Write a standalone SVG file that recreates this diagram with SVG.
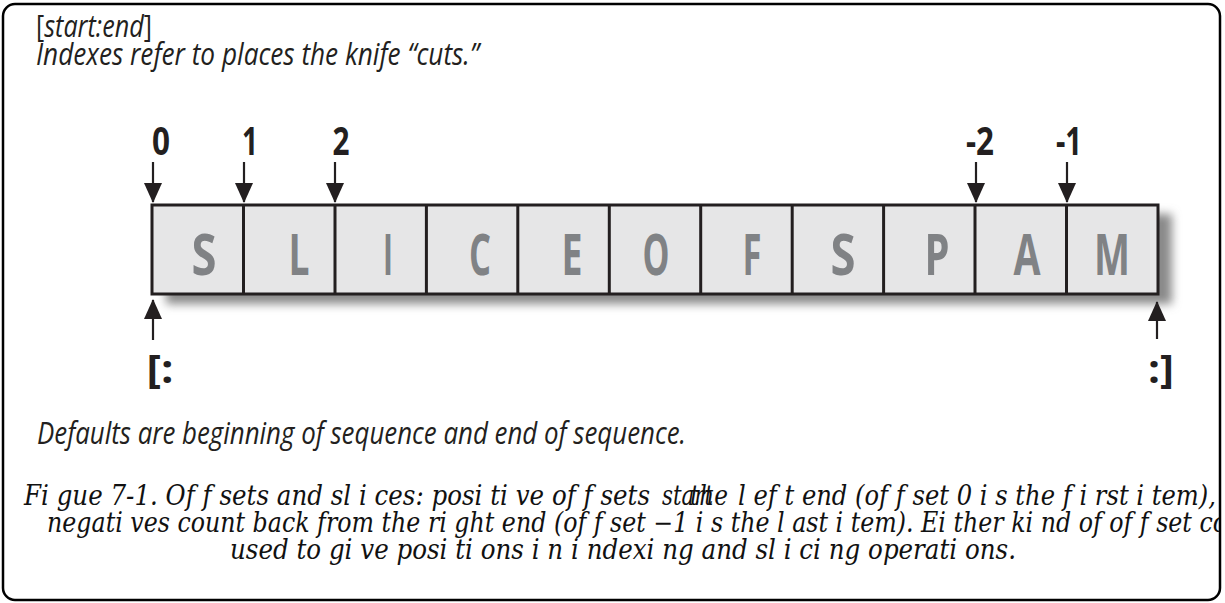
<svg xmlns="http://www.w3.org/2000/svg" width="1225" height="603" viewBox="0 0 1225 603">
<style>
.frame{fill:#fff;stroke:#000;stroke-width:2.5}
.hdr{font-family:"Open Sans","Noto Sans","Liberation Sans",sans-serif;font-style:italic;font-size:31px;fill:#231f20}
.up{font-style:normal}
.cell{fill:#e6e6e7;stroke:#231f20;stroke-width:3}
.let{font-family:"Open Sans","Liberation Sans",sans-serif;font-weight:bold;font-size:58px;fill:#808285;text-anchor:middle}
.idx{font-family:"Open Sans","Liberation Sans",sans-serif;font-weight:bold;font-size:39px;fill:#231f20;text-anchor:middle}
.arr{stroke:#231f20;stroke-width:2.2;fill:none;marker-end:url(#ah)}
.cap{font-family:"DejaVu Serif","Liberation Serif",serif;font-style:italic;font-size:27px;fill:#111}
</style>
<defs>
<marker id="ah" markerUnits="userSpaceOnUse" markerWidth="20" markerHeight="18" refX="19" refY="9" orient="auto" viewBox="0 0 20 18">
<path d="M0,0 L20,9 L0,18 z" fill="#231f20"/>
</marker>
<filter id="sh" x="-5%" y="-30%" width="110%" height="160%">
<feGaussianBlur stdDeviation="5"/>
</filter>
<clipPath id="clip"><rect x="0" y="0" width="1219" height="603"/></clipPath>
</defs>
<rect class="frame" x="3" y="4" width="1217" height="596" rx="12"/>
<g id="header">
<text class="hdr" x="36" y="37" textLength="116" lengthAdjust="spacingAndGlyphs"><tspan class="up">[</tspan>start:end<tspan class="up">]</tspan></text>
<text class="hdr" x="36" y="65" textLength="443" lengthAdjust="spacingAndGlyphs">Indexes refer to places the knife “cuts.”</text>
</g>
<g id="shadow">
<rect x="166" y="214" width="1006" height="90" fill="#8a8a8a" filter="url(#sh)"/>
</g>
<g id="strip">
<rect class="cell" x="152" y="205" width="1006" height="89"/>
<path d="M243.5,205V294M335,205V294M426.4,205V294M517.8,205V294M609.3,205V294M700.7,205V294M792.2,205V294M883.6,205V294M975,205V294M1066.5,205V294" stroke="#231f20" stroke-width="3"/>
</g>
<g id="cell-S1"><text class="let" x="204" y="275" textLength="25" lengthAdjust="spacingAndGlyphs">S</text></g>
<g id="cell-L"><text class="let" x="299" y="275" textLength="21" lengthAdjust="spacingAndGlyphs">L</text></g>
<g id="cell-I"><text class="let" x="388" y="275" textLength="10" lengthAdjust="spacingAndGlyphs">I</text></g>
<g id="cell-C"><text class="let" x="480" y="275" textLength="22" lengthAdjust="spacingAndGlyphs">C</text></g>
<g id="cell-E"><text class="let" x="572" y="275" textLength="21" lengthAdjust="spacingAndGlyphs">E</text></g>
<g id="cell-O"><text class="let" x="656" y="275" textLength="27" lengthAdjust="spacingAndGlyphs">O</text></g>
<g id="cell-F"><text class="let" x="752" y="275" textLength="19" lengthAdjust="spacingAndGlyphs">F</text></g>
<g id="cell-S2"><text class="let" x="843" y="275" textLength="25" lengthAdjust="spacingAndGlyphs">S</text></g>
<g id="cell-P"><text class="let" x="937" y="275" textLength="25" lengthAdjust="spacingAndGlyphs">P</text></g>
<g id="cell-A"><text class="let" x="1027" y="275" textLength="27" lengthAdjust="spacingAndGlyphs">A</text></g>
<g id="cell-M"><text class="let" x="1112" y="275" textLength="36" lengthAdjust="spacingAndGlyphs">M</text></g>
<g id="idx-0"><text class="idx" x="161" y="155" textLength="18" lengthAdjust="spacingAndGlyphs">0</text></g>
<g id="idx-1"><text class="idx" x="250" y="155" textLength="16" lengthAdjust="spacingAndGlyphs">1</text></g>
<g id="idx-2"><text class="idx" x="341" y="155" textLength="17" lengthAdjust="spacingAndGlyphs">2</text></g>
<g id="idx-m2"><text class="idx" x="980" y="155" textLength="28" lengthAdjust="spacingAndGlyphs">-2</text></g>
<g id="idx-m1"><text class="idx" x="1069" y="155" textLength="26" lengthAdjust="spacingAndGlyphs">-1</text></g>
<g id="start-default"><text class="idx" x="160" y="383" textLength="27" lengthAdjust="spacingAndGlyphs">[:</text></g>
<g id="end-default"><text class="idx" x="1161" y="383" textLength="26" lengthAdjust="spacingAndGlyphs">:]</text></g>
<g id="connectors">
<line class="arr" x1="153" y1="162" x2="153" y2="202"/>
<line class="arr" x1="244" y1="162" x2="244" y2="202"/>
<line class="arr" x1="335" y1="162" x2="335" y2="202"/>
<line class="arr" x1="976" y1="162" x2="976" y2="202"/>
<line class="arr" x1="1067" y1="162" x2="1067" y2="202"/>
<line class="arr" x1="153" y1="340" x2="153" y2="300"/>
<line class="arr" x1="1157" y1="339" x2="1157" y2="302"/>
</g>
<g id="footer">
<text class="hdr" x="37" y="444" font-size="33" textLength="649" lengthAdjust="spacingAndGlyphs">Defaults are beginning of sequence and end of sequence.</text>
</g>
<g id="caption" clip-path="url(#clip)">
<text class="cap" x="24" y="505" textLength="626" lengthAdjust="spacingAndGlyphs">Fi gue 7-1. Of f sets and sl i ces: posi ti ve of f sets</text>
<text class="cap" x="662" y="505" textLength="51" lengthAdjust="spacingAndGlyphs">start</text>
<text class="cap" x="690" y="505" textLength="38" lengthAdjust="spacingAndGlyphs">the</text>
<text class="cap" x="738" y="505" textLength="478" lengthAdjust="spacingAndGlyphs">l ef t end (of f set 0 i s the f i rst i tem),</text>
<text class="cap" x="47" y="532" textLength="1180" lengthAdjust="spacingAndGlyphs">negati ves count back from the ri ght end (of f set −1 i s the l ast i tem). Ei ther ki nd of of f set co</text>
<text class="cap" x="230" y="559" textLength="786" lengthAdjust="spacingAndGlyphs">used to gi ve posi ti ons i n i ndexi ng and sl i ci ng operati ons.</text>
</g>
</svg>
